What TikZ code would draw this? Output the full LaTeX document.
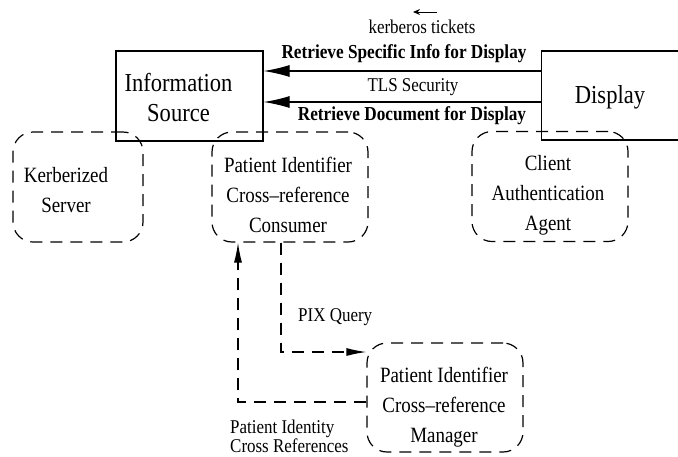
\documentclass[tikz,border=0pt]{standalone}
\usepackage{fontspec}
\setmainfont{Liberation Serif}[FakeStretch=0.87]
\usetikzlibrary{arrows.meta,positioning}
\tikzset{
	solidbox/.style={draw,line width=1.2pt,inner sep=0pt},
	dashbox/.style={draw,line width=1.2pt,dash pattern=on 12pt off 8pt,rounded corners=20pt,minimum width=156pt,minimum height=110pt,inner sep=0pt},
	bigtext/.style={font=\fontsize{25.9}{30}\selectfont,align=center,inner sep=0pt},
	boxtext/.style={font=\fontsize{21.8}{30}\selectfont,align=center,inner sep=0pt},
	smalltext/.style={font=\fontsize{19.5}{19}\selectfont,inner sep=0pt},
	boldtext/.style={font=\fontsize{19.8}{19}\selectfont\bfseries,inner sep=0pt},
	msgarrow/.style={line width=1.2pt,-{Latex[length=26pt,width=12pt]}},
	queryarrow/.style={line width=1.2pt,dash pattern=on 12pt off 8pt,-{Latex[length=20pt,width=8pt]}},
}
\begin{document}
\begin{tikzpicture}[x=1pt,y=-1pt]
	\useasboundingbox (0,0) rectangle (678,456);
	\node [solidbox,minimum width=147pt,minimum height=90pt] (src) at (189.5,96) {};
	\node [bigtext] (srctext) at (178.5,98) {Information\\Source};
	\node [solidbox,minimum width=160pt,minimum height=89pt,anchor=west] (disp) at (541,95.5) {};
	\node [bigtext] (disptext) at (610,97) {Display};
	\node [dashbox,minimum width=130pt] (kerb) at (78,187) {};
	\node [boxtext] (kerbtext) at (66,190) {Kerberized\\Server};
	\node [dashbox] (cons) at (290,187) {};
	\node [boxtext] (constext) at (288,195) {Patient Identifier\\Cross--reference\\Consumer};
	\node [dashbox] (agent) at (550,186.5) {};
	\node [boxtext] (agenttext) at (548,195) {Client\\Authentication\\Agent};
	\node [dashbox,minimum height=109pt] (mgr) at (445,397.5) {};
	\node [boxtext] (mgrtext) at (444,407) {Patient Identifier\\Cross--reference\\Manager};
	\node [smalltext] (tickets) at (422,27) {kerberos tickets};
	\coordinate (kstart) at (437,12);
	\coordinate (kend) at (413,12);
	\draw [line width=1pt,-{Stealth[length=7pt,width=6pt]}] (kstart) -- (kend);
	\node [boldtext] (specific) at (404,54) {Retrieve Specific Info for Display};
	\node [smalltext] (tls) at (413,87) {TLS Security};
	\node [boldtext] (document) at (412,116) {Retrieve Document for Display};
	\draw [msgarrow] (disp.west |- 0,71) -- (src.east |- 0,71);
	\draw [msgarrow] (disp.west |- 0,102) -- (src.east |- 0,102);
	\draw [queryarrow] ([xshift=-9pt]cons.south) |- (mgr.west |- 0,352);
	\draw [queryarrow] (mgr.west |- 0,402) -| ([xshift=-52pt]cons.south);
	\node [smalltext,anchor=west] (query) at (298,317) {PIX Query};
	\node [smalltext,anchor=north west,align=left] (refs) at (230,420) {Patient Identity\\Cross References};
\end{tikzpicture}
\end{document}
